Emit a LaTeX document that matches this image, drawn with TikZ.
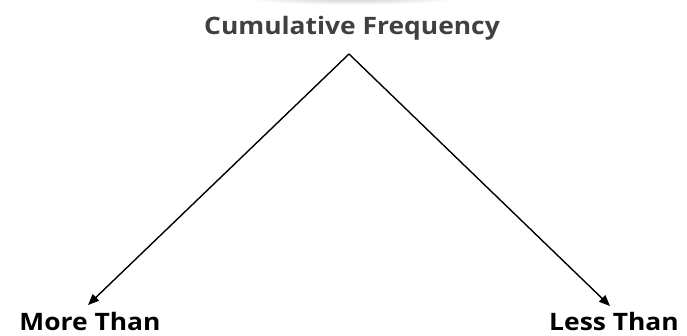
\documentclass[tikz,border=0pt]{standalone}
\usepackage{fontspec}
\setmainfont{Open Sans}[FakeStretch=1.1]
\usetikzlibrary{arrows.meta}
\begin{document}
\begin{tikzpicture}[x=1pt,y=1pt,
  lbl/.style={inner sep=0pt, anchor=base, font=\fontsize{24}{27}\selectfont\bfseries},
  conn/.style={line width=1.4pt, -{Triangle[length=11pt,width=9pt]}}]
\useasboundingbox (0,0) rectangle (687,335);
\fill[white] (0,0) rectangle (687,335);
\shade[inner color=gray!45, outer color=white] (352,338) ellipse [x radius=110, y radius=8];
\fill[white] (0,335) rectangle (687,345);
\node[lbl, text=black!75] (cf) at (352,300) {Cumulative Frequency};
\node[lbl] (more) at (90,5) {More Than};
\node[lbl] (less) at (614,5) {Less Than};
\coordinate (apex) at (349,281);
\coordinate (mend) at (88,30);
\coordinate (lend) at (610,29);
\draw[conn] (apex) -- (mend);
\draw[conn] (apex) -- (lend);
\end{tikzpicture}
\end{document}
